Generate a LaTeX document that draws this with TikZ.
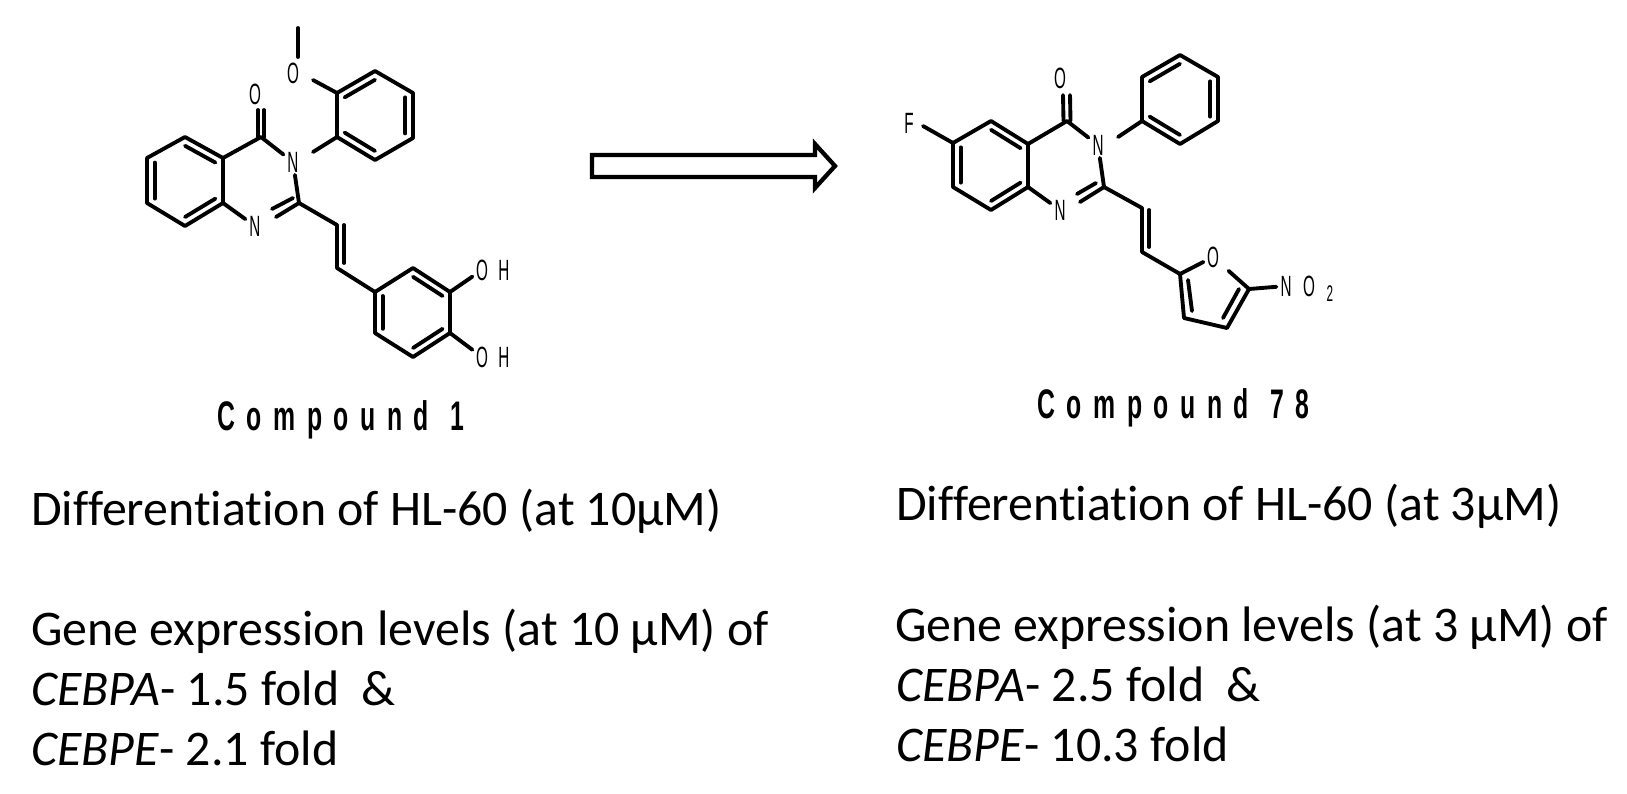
\documentclass[tikz,border=0pt]{standalone}
\usepackage{fontspec}
\setmainfont[Ligatures=NoCommon]{Carlito}
\newfontfamily\atomfont[FakeStretch=0.52]{Liberation Sans}
\newfontfamily\cpdfont[FakeStretch=0.6,LetterSpace=28]{Liberation Sans Bold}
\usetikzlibrary{calc}
\tikzset{
  bond/.style={line width=2.9pt,line cap=round,line join=round,draw=black},
  atom/.style={inner sep=0pt,minimum width=14pt,minimum height=19pt,font=\atomfont\fontsize{22}{22}\selectfont},
  sub/.style={inner sep=0pt,font=\atomfont\fontsize{17}{17}\selectfont},
  cpd/.style={anchor=base west,inner sep=0pt,font=\cpdfont\fontsize{31}{31}\selectfont},
  body/.style={anchor=base west,inner sep=0pt,font=\fontsize{37.4}{41}\selectfont},
  blockarrow/.style={line width=3.2pt,line join=miter,draw=black,fill=white}
}
\newcommand{\ring}[3]{\draw[bond] ($(#1)!.2!(#3)$) -- ($(#2)!.2!(#3)$);}
\begin{document}
\begin{tikzpicture}[x=0.75pt,y=-0.75pt]
\useasboundingbox (0,0) rectangle (1627,793);
% ---- Compound 1
\foreach \n/\p in {a1/{185,137},a2/{223,158},a3/{223,203},a4/{185,226},a5/{147,203},a6/{147,158},
  c4/{261,137},c2/{299,203},v1/{337,225},v2/{337,268},
  b1/{375,292},b2/{413,268},b3/{450,292},b4/{450,333},b5/{413,357},b6/{375,333},
  d1/{337,93},d2/{375,71},d3/{413,93},d4/{413,138},d5/{375,160},d6/{337,137},
  me/{298,28},acen/{185,181},bcen/{413,312},dcen/{375,115}}
  {\coordinate (\n) at (\p);}
\node[atom] (o4) at (255,94) {O};
\node[atom] (n3) at (293,162) {N};
\node[atom] (n1) at (255,226) {N};
\node[atom] (ome) at (293,73) {O};
\node[atom] (oh1) at (482,270) {O};
\node[atom] (h1) at (504,270) {H};
\node[atom] (oh2) at (482,357) {O};
\node[atom] (h2) at (504,357) {H};
\draw[bond] (a1)--(a2)--(a3)--(a4)--(a5)--(a6)--cycle;
\ring{a1}{a2}{acen} \ring{a5}{a6}{acen} \ring{a3}{a4}{acen}
\draw[bond] (a2)--(c4);
\draw[bond] (d1)--(d2)--(d3)--(d4)--(d5)--(d6)--cycle;
\ring{d1}{d2}{dcen} \ring{d3}{d4}{dcen} \ring{d5}{d6}{dcen}
\draw[bond] (b1)--(b2)--(b3)--(b4)--(b5)--(b6)--cycle;
\ring{b6}{b1}{bcen} \ring{b2}{b3}{bcen} \ring{b4}{b5}{bcen}
\draw[bond] (c2)--(v1)--(v2)--(b1);
\draw[bond] ($(v1)+(7,0)$) -- ($(v2)+(7,-5)$);
\draw[bond] ($(c4)+(-3,0)$) -- ($(o4)+(3,16)$);
\draw[bond] ($(c4)+(3,0)$) -- ($(o4)+(9,16)$);
\draw[bond] (c4) -- (n3);
\draw[bond] (n3) -- (c2);
\draw[bond] (d6) -- ($(n3)+(20,-10)$);
\draw[bond] (a3) -- (n1);
\draw[bond] (c2) -- ($(n1)+(21,-9)$);
\draw[bond] ($(c2)+(-6,-5)$) -- ($(n1)+(17,-17)$);
\draw[bond] (d1) -- ($(ome)+(20,7)$);
\draw[bond] (me) -- ($(ome)+(5,-16)$);
\draw[bond] (b3) -- (oh1);
\draw[bond] (b4) -- (oh2);
\node[cpd] (name1) at (217,430) {Compound\hspace{2pt} 1};
% ---- Arrow
\draw[blockarrow] (592,155) -- (815,155) -- (815,144) -- (835,166) -- (815,188) -- (815,177) -- (592,177) -- cycle;
% ---- Compound 78
\foreach \n/\p in {e1/{991,121},e2/{1028,144},e3/{1028,187},e4/{991,210},e5/{953,187},e6/{953,143},
  k4/{1067,121},k2/{1104,187},w1/{1142,208},w2/{1142,252},
  f2/{1180,274},f3/{1184,318},f4/{1227,328},f5/{1249,289},
  g1/{1142,121},g2/{1142,77},g3/{1180,55},g4/{1218,77},g5/{1218,121},g6/{1180,144},
  ecen/{991,165},gcen/{1180,99},fcen/{1214,295}}
  {\coordinate (\n) at (\p);}
\node[atom] (ff) at (909,123) {F};
\node[atom] (o78) at (1060,78) {O};
\node[atom] (n378) at (1098,145) {N};
\node[atom] (n178) at (1060,210) {N};
\node[atom] (ofu) at (1213,257) {O};
\node[atom] (nno) at (1286,286) {N};
\node[atom] (ono) at (1309,286) {O};
\node[sub] (two) at (1330,294) {2};
\draw[bond] (e1)--(e2)--(e3)--(e4)--(e5)--(e6)--cycle;
\ring{e1}{e2}{ecen} \ring{e5}{e6}{ecen} \ring{e3}{e4}{ecen}
\draw[bond] (e2)--(k4);
\draw[bond] (e6)--($(ff)+(14,3)$);
\draw[bond] (g1)--(g2)--(g3)--(g4)--(g5)--(g6)--cycle;
\ring{g2}{g3}{gcen} \ring{g4}{g5}{gcen} \ring{g6}{g1}{gcen}
\draw[bond] ($(k4)+(-3.5,0)$) -- ($(o78)+(3,17)$);
\draw[bond] ($(k4)+(3.5,0)$) -- ($(o78)+(10,17)$);
\draw[bond] (k4) -- (n378);
\draw[bond] (n378) -- (k2);
\draw[bond] (g1) -- ($(n378)+(20,-8)$);
\draw[bond] (e3) -- (n178);
\draw[bond] (k2) -- ($(n178)+(20,-8)$);
\draw[bond] ($(k2)+(-8,-4)$) -- ($(n178)+(17,-16)$);
\draw[bond] (k2)--(w1)--(w2)--(f2);
\draw[bond] ($(w1)+(7,2)$) -- ($(w2)+(7,-5)$);
\draw[bond] (f2)--(ofu);
\draw[bond,shorten <=6pt] (ofu)--(f5);
\draw[bond] (f2)--(f3)--(f4)--(f5);
\draw[bond] (1188,280) -- (1192,311);
\draw[bond] (1239,289) -- (1223,318);
\draw[bond] (f5)--(nno);
\node[cpd] (name78) at (1037,418) {Compound\hspace{2pt} 78};
% ---- Text
\node[body] (l1) at (31,525) {Differentiation of HL-60 (at 10µM)};
\node[body] (l2) at (31,645) {Gene expression levels (at 10 µM) of};
\node[body] (l3) at (31,705) {\textit{CEBPA}- 1.5 fold\ \ \&};
\node[body] (l4) at (31,765) {\textit{CEBPE}- 2.1 fold};
\node[body] (r1) at (896,520) {Differentiation of HL-60 (at 3µM)};
\node[body] (r2) at (895,641) {Gene expression levels (at 3 µM) of};
\node[body] (r3) at (896,701) {\textit{CEBPA}- 2.5 fold\ \ \&};
\node[body] (r4) at (896,761) {\textit{CEBPE}- 10.3 fold};
\end{tikzpicture}
\end{document}
